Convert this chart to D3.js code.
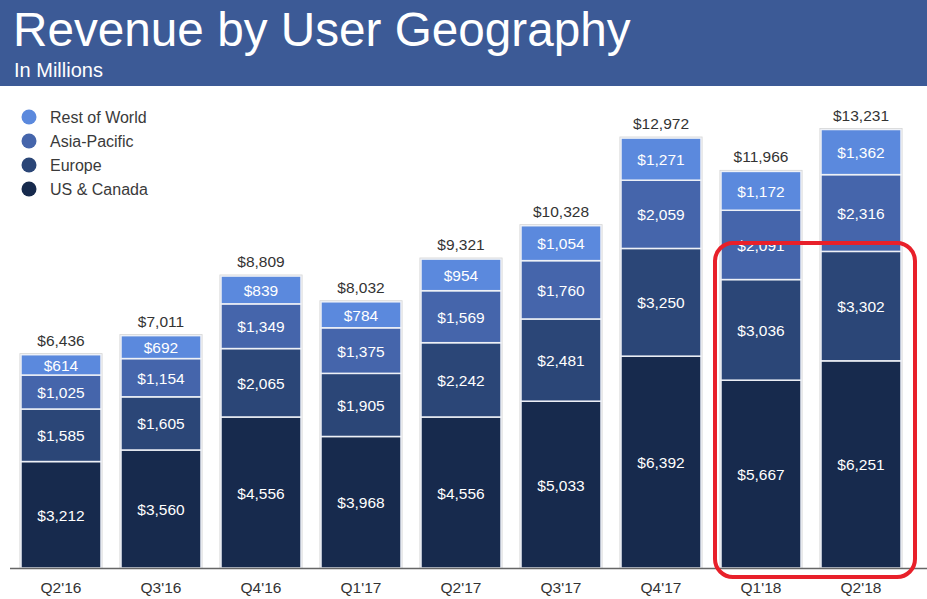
<!doctype html>
<html>
<head>
<meta charset="utf-8">
<style>
  body { margin: 0; background: #fff; font-family: 'Liberation Sans', Arial, sans-serif; }
  svg { display: block; }
  text.title { font-size: 47.7px; fill: #fff; }
  text.subtitle { font-size: 20px; fill: #fff; }
  text.legend { font-size: 16px; fill: #3a3a3a; }
  text.total { font-size: 15.5px; fill: #333; }
  text.value { font-size: 15.5px; fill: #fff; }
  text.xlabel { font-size: 15.5px; fill: #333; }
</style>
<script src="https://d3js.org/d3.v7.min.js"></script>
</head>
<body>
<svg width="927" height="599"></svg>
<script>
const quarters = ["Q2'16", "Q3'16", "Q4'16", "Q1'17", "Q2'17", "Q3'17", "Q4'17", "Q1'18", "Q2'18"];
const usCanada = [3212, 3560, 4556, 3968, 4556, 5033, 6392, 5667, 6251];
const europe = [1585, 1605, 2065, 1905, 2242, 2481, 3250, 3036, 3302];
const asiaPacific = [1025, 1154, 1349, 1375, 1569, 1760, 2059, 2091, 2316];
const restOfWorld = [614, 692, 839, 784, 954, 1054, 1271, 1172, 1362];
const totals = [6436, 7011, 8809, 8032, 9321, 10328, 12972, 11966, 13231];
const seriesNames = ['US & Canada', 'Europe', 'Asia-Pacific', 'Rest of World'];
const highlighted = ["Q1'18", "Q2'18"];

const colors = ['#172a4d', '#2b4677', '#4565ab', '#5b89dd'];

const svg = d3.select('svg');
const W = 927, H = 599;

// header banner
svg.append('rect').attr('x', 0).attr('y', 0).attr('width', W).attr('height', 86).attr('fill', '#3c5a96');
svg.append('text').attr('class', 'title').attr('x', 13).attr('y', 46).text('Revenue by User Geography');
svg.append('text').attr('class', 'subtitle').attr('x', 14).attr('y', 77).text('In Millions');

const baseY = 568;
const x = d3.scaleBand().domain(quarters).range([11, 911]).paddingInner(0.2).paddingOuter(0.1);
const y = d3.scaleLinear().domain([0, 13231]).range([baseY, 129.5]);

const rows = quarters.map((q, i) => ({
  q: q,
  'US & Canada': usCanada[i],
  'Europe': europe[i],
  'Asia-Pacific': asiaPacific[i],
  'Rest of World': restOfWorld[i],
  total: totals[i]
}));

const stacked = d3.stack().keys(seriesNames)(rows);

// bar outline (light gray frame)
svg.append('g').selectAll('rect').data(rows).join('rect')
  .attr('x', d => x(d.q) - 1.5)
  .attr('y', d => y(d.total) - 1.5)
  .attr('width', x.bandwidth() + 3)
  .attr('height', d => baseY - y(d.total) + 1.5)
  .attr('fill', '#d4d4d4');

const layers = svg.append('g').selectAll('g').data(stacked).join('g')
  .attr('fill', (d, i) => colors[i]);

layers.selectAll('rect').data(d => d).join('rect')
  .attr('x', d => x(d.data.q))
  .attr('y', d => y(d[1]))
  .attr('width', x.bandwidth())
  .attr('height', d => y(d[0]) - y(d[1]))
  .attr('stroke', '#eef1f7')
  .attr('stroke-width', 1.5);

// segment values
layers.selectAll('text').data(d => d).join('text')
  .attr('class', 'value')
  .attr('x', d => x(d.data.q) + x.bandwidth() / 2)
  .attr('y', d => (y(d[0]) + y(d[1])) / 2 + 6)
  .attr('text-anchor', 'middle')
  .text(d => '$' + d3.format(',')(d[1] - d[0]));

// totals
svg.append('g').selectAll('text').data(rows).join('text')
  .attr('class', 'total')
  .attr('x', d => x(d.q) + x.bandwidth() / 2)
  .attr('y', d => y(d.total) - 9)
  .attr('text-anchor', 'middle')
  .text(d => '$' + d3.format(',')(d.total));

// baseline
svg.append('line').attr('x1', 10).attr('x2', W).attr('y1', baseY + 0.5).attr('y2', baseY + 0.5)
  .attr('stroke', '#666').attr('stroke-width', 1.5);

// x labels
svg.append('g').selectAll('text').data(quarters).join('text')
  .attr('class', 'xlabel')
  .attr('x', d => x(d) + x.bandwidth() / 2)
  .attr('y', 593)
  .attr('text-anchor', 'middle')
  .text(d => d);

// legend
const legendItems = seriesNames.slice().reverse();
const legendColors = colors.slice().reverse();
const lg = svg.append('g').selectAll('g').data(legendItems).join('g')
  .attr('transform', (d, i) => `translate(29, ${117 + i * 24})`);
lg.append('circle').attr('r', 7.5).attr('fill', (d, i) => legendColors[i]);
lg.append('text').attr('class', 'legend').attr('x', 21).attr('y', 6).text(d => d);

// highlight box around last two quarters
const hx0 = x(highlighted[0]) - 6;
const hx1 = x(highlighted[1]) + x.bandwidth() + 14;
svg.append('rect')
  .attr('x', hx0).attr('y', 243)
  .attr('width', hx1 - hx0).attr('height', 334)
  .attr('rx', 18).attr('ry', 18)
  .attr('fill', 'none').attr('stroke', '#e8202a').attr('stroke-width', 4);
</script>
</body>
</html>
